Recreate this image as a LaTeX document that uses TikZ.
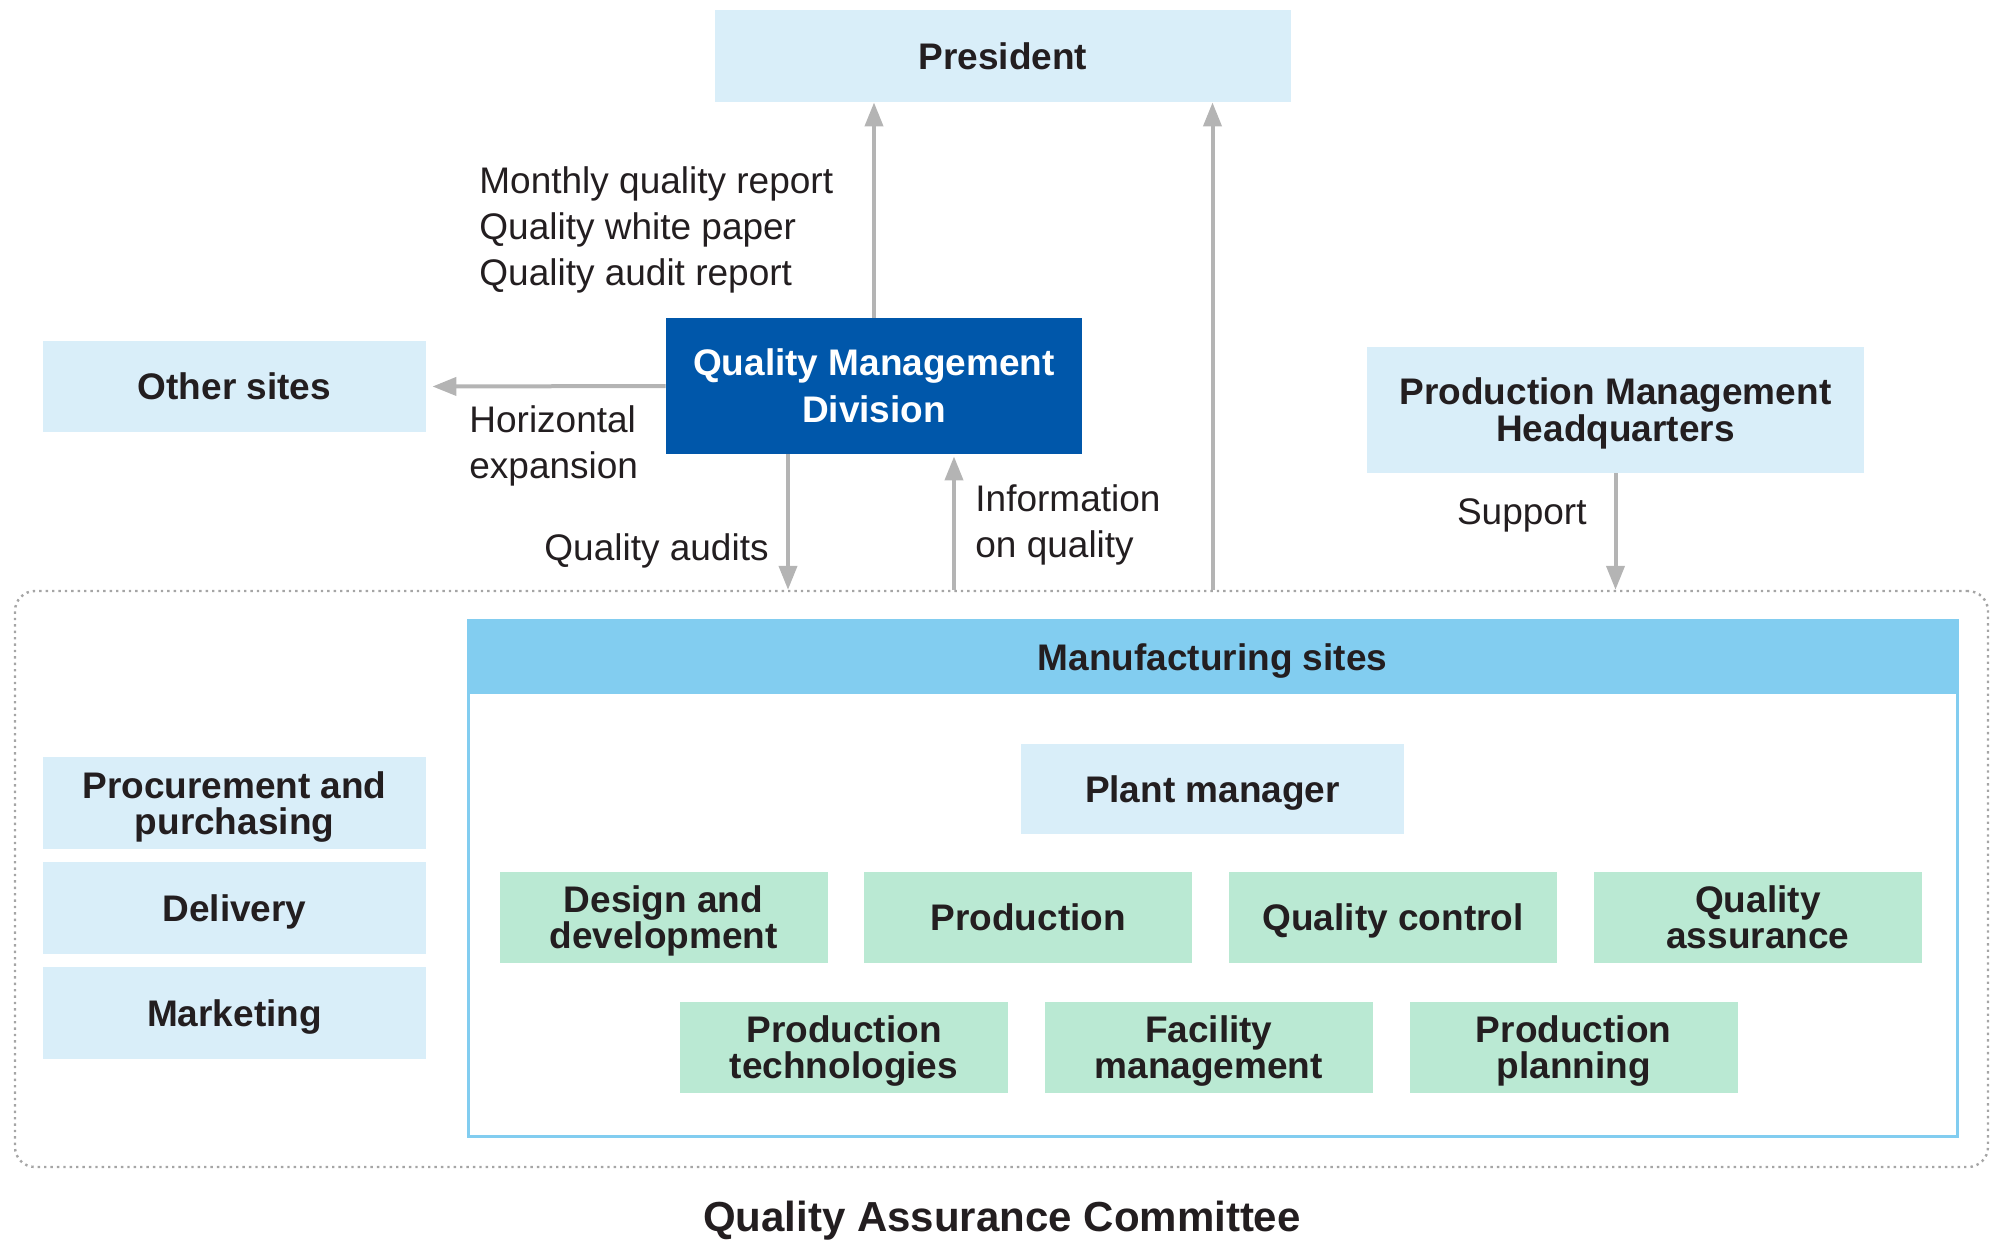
\documentclass[tikz,border=0pt]{standalone}
\usepackage{fontspec}
\setmainfont{Liberation Sans}
\usetikzlibrary{
  arrows.meta,
  positioning
}
\definecolor{PaleBlue}{RGB}{217,238,249}
\definecolor{PaleGreen}{RGB}{186,233,211}
\definecolor{SkyBlue}{RGB}{130,205,240}
\definecolor{DeepBlue}{RGB}{0,87,170}
\definecolor{ArrowGray}{RGB}{180,180,180}
\definecolor{InkBlack}{RGB}{35,30,32}
\definecolor{DotGray}{RGB}{165,165,165}
\newcommand{\boxfont}{\fontsize{18.5}{18}\selectfont\bfseries}
\newcommand{\notefont}{\fontsize{18.5}{23}\selectfont}
\tikzset{
  bluebox/.style={fill=PaleBlue,minimum width=191.5pt,minimum height=45.5pt,align=center,text=InkBlack,font=\boxfont,inner sep=0pt,text depth=0pt},
  greenbox/.style={fill=PaleGreen,minimum width=164pt,minimum height=45.5pt,align=center,text=InkBlack,font=\boxfont,inner sep=0pt,text depth=0pt},
  qmdbox/.style={fill=DeepBlue,minimum width=208pt,minimum height=68pt,align=center,text=white,font={\fontsize{18.5}{23.5}\selectfont\bfseries},inner sep=0pt,text depth=-4pt},
  note/.style={text=InkBlack,font=\notefont,inner sep=0pt},
  grayarrow/.style={-{Triangle[length=12pt,width=9pt]},line width=2pt,draw=ArrowGray}
}

\begin{document}
\begin{tikzpicture}[x=0.5pt,y=-0.5pt,node distance=6pt and 18pt]
\useasboundingbox (0,0) rectangle (1994,1244);
% committee frame
\node[draw=DotGray,dotted,line width=1.2pt,rounded corners=10pt,minimum width=986.5pt,minimum height=288pt] (qac) at (1001.5,879) {};
\node[font={\fontsize{21}{24}\selectfont\bfseries},text=InkBlack,inner sep=0pt] (qaclabel) at (1002,1221) {Quality Assurance Committee};
% top: management
\node[bluebox, minimum width=288pt, minimum height=46pt] (pres) at (1003,56) {President};
\node[qmdbox] (qmd) at (874,386) {Quality Management\\Division};
\node[bluebox] (other) at (234.5,386.5) {Other sites};
\node[bluebox, minimum width=248.5pt, minimum height=63pt, font={\fontsize{18.5}{18.5}\selectfont\bfseries}, text depth=-2pt] (pmh) at (1615.5,410) {Production Management\\Headquarters};
% manufacturing sites
\node[draw=SkyBlue,line width=1.5pt,minimum width=744.5pt,minimum height=257pt] (mfg) at (1212.5,879) {};
\node[fill=SkyBlue,minimum width=746pt,minimum height=37.5pt,anchor=north,text=InkBlack,font=\boxfont,text depth=0pt] (mfghead) at ([yshift=0.75pt]mfg.north) {Manufacturing sites};
\node[bluebox, minimum height=45pt] (plant) at (1212.5,789) {Plant manager};
\node[greenbox] (design) at (663.5,917.5) {Design and\\development};
\node[greenbox, text depth=-7pt, right=of design] (prod) {Production};
\node[greenbox, text depth=-7pt, right=of prod] (qc) {Quality control};
\node[greenbox, right=of qc] (qa) {Quality\\assurance};
\node[greenbox] (tech) at (844,1047) {Production\\technologies};
\node[greenbox, right=of tech] (facil) {Facility\\management};
\node[greenbox, right=of facil] (plan) {Production\\planning};
% left column
\node[bluebox, minimum height=46pt] (proc) at (234.5,803) {Procurement and\\purchasing};
\node[bluebox, minimum height=46pt, below=of proc] (deliv) {Delivery};
\node[bluebox, minimum height=46pt, below=of deliv] (mkt) {Marketing};
% arrows
\draw[grayarrow] (qmd.north) -- (qmd.north |- pres.south);
\draw[grayarrow] (mfg.north |- qac.north) -- (mfg.north |- pres.south);
\draw[grayarrow, shorten >=3pt] (qmd.west) -- (other.east);
\coordinate (audx) at ([xshift=-43pt]qmd.south);
\coordinate (infox) at ([xshift=40pt]qmd.south);
\draw[grayarrow] (audx) -- (audx |- qac.north);
\draw[grayarrow, shorten >=1pt] (infox |- qac.north) -- (infox);
\draw[grayarrow] (pmh.south) -- (pmh.south |- qac.north);
% labels
\node[note, anchor=west, align=left] (reports) at (479,230) {Monthly quality report\\Quality white paper\\Quality audit report};
\node[note, anchor=west, align=left] (horiz) at (469,446) {Horizontal\\expansion};
\node[note, anchor=east] (audits) at (769,551) {Quality audits};
\node[note, anchor=west, align=left] (info) at (975,525) {Information\\on quality};
\node[note, anchor=east] (support) at (1587,515) {Support};
\end{tikzpicture}
\end{document}
